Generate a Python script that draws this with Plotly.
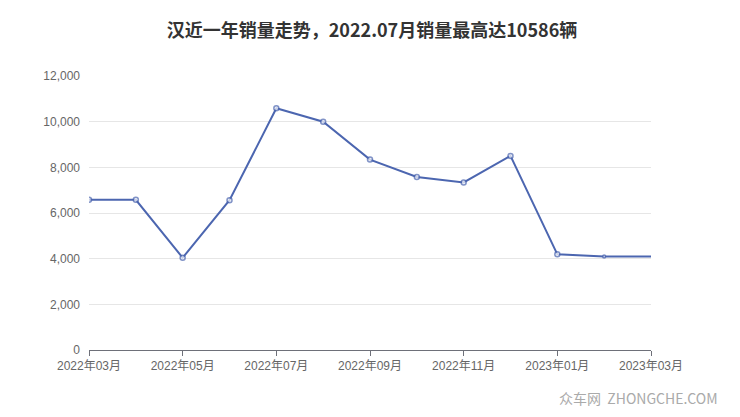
import plotly.graph_objects as go

months = ["2022年03月", "2022年04月", "2022年05月", "2022年06月", "2022年07月", "2022年08月",
          "2022年09月", "2022年10月", "2022年11月", "2022年12月", "2023年01月", "2023年02月",
          "2023年03月"]
sales = [6580, 6580, 4040, 6560, 10586, 10000, 8340, 7580, 7340, 8500, 4190, 4100, 4100]
title_text = "汉近一年销量走势，2022.07月销量最高达10586辆"

color = "#4c66b0"
sizes = [5] * (len(sales) - 2) + [3, 0]

fig = go.Figure()
fig.add_trace(go.Scatter(
    x=months, y=sales, mode="lines+markers",
    line=dict(color=color, width=2),
    marker=dict(symbol="circle", size=sizes, color="white", line=dict(color=color, width=1.5)),
    showlegend=False, hoverinfo="x+y",
))

tickfont = dict(family="Liberation Sans, Noto Sans CJK SC", size=12, color="#666666")

fig.update_layout(
    width=740, height=417,
    margin=dict(l=81, r=97, t=68, b=75, autoexpand=False),
    paper_bgcolor="white", plot_bgcolor="white",
    title=dict(text=title_text, x=(372 - 8) / 740, xanchor="center", y=1 - 23 / 417, yanchor="middle",
               font=dict(family="Noto Sans CJK SC", size=18, color="#333333", weight="bold")),
    font=dict(family="Liberation Sans, Noto Sans CJK SC", size=12, color="#666666"),
    xaxis=dict(type="category", range=[0, len(months) - 1], tickmode="linear", tick0=0, dtick=2,
               automargin=False,
               showgrid=False, showline=True, linecolor="#6e7079", linewidth=1,
               ticks="outside", ticklen=5, tickcolor="#6e7079", tickfont=tickfont,
               zeroline=False, fixedrange=True),
    yaxis=dict(range=[0, 12000], dtick=2000, tickformat=",d", automargin=False,
               showgrid=True, gridcolor="#e6e6e6", gridwidth=1,
               showline=False, zeroline=False, ticks="", ticklabelstandoff=8,
               tickfont=tickfont, fixedrange=True),
)

fig.add_annotation(text="众车网  ZHONGCHE.COM", xref="paper", yref="paper",
                   x=(712 - 81) / 562, y=(342 - 390) / 274, xanchor="right", yanchor="middle",
                   showarrow=False,
                   font=dict(family="Noto Sans CJK SC", size=14, color="#aaaaaa"))

fig.write_html("out.html")
